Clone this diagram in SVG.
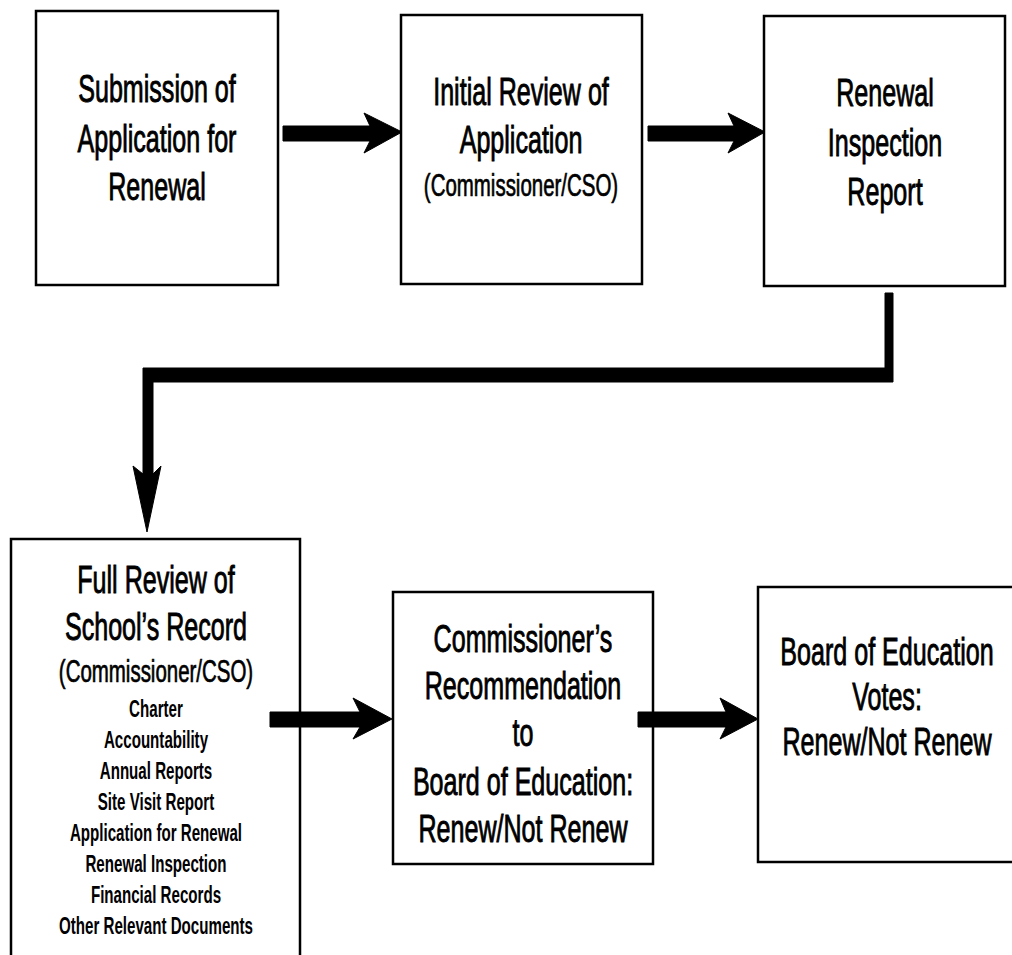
<svg xmlns="http://www.w3.org/2000/svg" width="1012" height="955" viewBox="0 0 1012 955">
<style>
.box{fill:#fff;stroke:#000;stroke-width:2.5}
.t{font-family:"Liberation Sans",Arial,sans-serif;font-size:38px;fill:#000;stroke:#000;stroke-width:0.9;text-anchor:middle}
.s{font-family:"Liberation Sans",Arial,sans-serif;font-size:31px;fill:#000;stroke:#000;stroke-width:0.7;text-anchor:middle}
.l{font-family:"Liberation Sans",Arial,sans-serif;font-size:24px;font-weight:bold;fill:#000;text-anchor:middle}
.c{fill:#000;stroke:#000;stroke-width:1;stroke-linejoin:miter}
</style>
<rect width="1012" height="955" fill="#fff"/>
<g id="n1">
<rect class="box" x="36" y="11" width="242" height="274"/>
<text class="t" transform="translate(157 0) scale(0.66 1)"><tspan x="0" y="102">Submission of</tspan><tspan x="0" y="152">Application for</tspan><tspan x="0" y="200">Renewal</tspan></text>
</g>
<g id="n2">
<rect class="box" x="401" y="15" width="241" height="269"/>
<text class="t" transform="translate(521 0) scale(0.66 1)"><tspan x="0" y="105">Initial Review of</tspan><tspan x="0" y="153">Application</tspan></text>
<text class="s" transform="translate(521 0) scale(0.66 1)"><tspan x="0" y="196">(Commissioner/CSO)</tspan></text>
</g>
<g id="n3">
<rect class="box" x="764" y="16" width="241" height="270"/>
<text class="t" transform="translate(885 0) scale(0.66 1)"><tspan x="0" y="106">Renewal</tspan><tspan x="0" y="156">Inspection</tspan><tspan x="0" y="205">Report</tspan></text>
</g>
<g id="n4">
<rect class="box" x="11" y="539" width="289" height="430"/>
<text class="t" transform="translate(156 0) scale(0.66 1)"><tspan x="0" y="593">Full Review of</tspan><tspan x="0" y="640">School’s Record</tspan></text>
<text class="s" transform="translate(156 0) scale(0.66 1)"><tspan x="0" y="682">(Commissioner/CSO)</tspan></text>
<text class="l" transform="translate(156 0) scale(0.63 1)"><tspan x="0" y="717">Charter</tspan><tspan x="0" y="748">Accountability</tspan><tspan x="0" y="779">Annual Reports</tspan><tspan x="0" y="810">Site Visit Report</tspan><tspan x="0" y="841">Application for Renewal</tspan><tspan x="0" y="872">Renewal Inspection</tspan><tspan x="0" y="903">Financial Records</tspan><tspan x="0" y="934">Other Relevant Documents</tspan></text>
</g>
<g id="n5">
<rect class="box" x="393" y="592" width="260" height="272"/>
<text class="t" transform="translate(523 0) scale(0.66 1)"><tspan x="0" y="652">Commissioner’s</tspan><tspan x="0" y="699">Recommendation</tspan><tspan x="0" y="746">to</tspan><tspan x="0" y="795">Board of Education:</tspan><tspan x="0" y="842">Renew/Not Renew</tspan></text>
</g>
<g id="n6">
<rect class="box" x="758" y="587" width="270" height="275"/>
<text class="t" transform="translate(887 0) scale(0.66 1)"><tspan x="0" y="665">Board of Education</tspan><tspan x="0" y="710">Votes:</tspan><tspan x="0" y="755">Renew/Not Renew</tspan></text>
</g>
<g id="connectors">
<path class="c" d="M283,126 H370 L364,113 L402,132 L364,153 L370,141 H283 Z"/>
<path class="c" d="M648,126 H734 L728,113 L765,132 L728,153 L734,141 H648 Z"/>
<path class="c" d="M885,293 H893 V382 H153 V474 L161,466 L147,532 L133,466 L143,474 V368 H885 Z"/>
<path class="c" d="M270,712 H360 L353,698 L392,719 L353,739 L360,727 H270 Z"/>
<path class="c" d="M638,712 H726 L720,698 L758,719 L720,739 L726,727 H638 Z"/>
</g>
</svg>
